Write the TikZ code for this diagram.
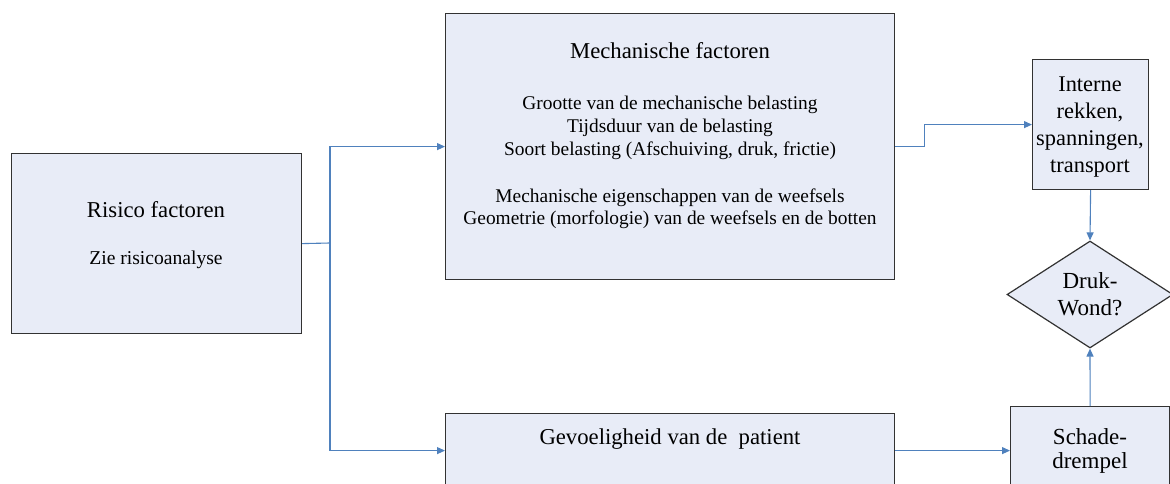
\documentclass[tikz,border=0pt]{standalone}
\usepackage{fontspec}
\setmainfont{Liberation Serif}
\usetikzlibrary{shapes.geometric,arrows.meta}
\definecolor{boxfill}{RGB}{232,236,247}
\definecolor{boxline}{RGB}{50,50,50}
\definecolor{arrowblue}{RGB}{79,129,189}
\begin{document}
\begin{tikzpicture}[x=1pt,y=-1pt,
  box/.style={draw=boxline, fill=boxfill, line width=1.2pt, inner sep=0pt, anchor=north west},
  lbl/.style={align=center, inner sep=0pt, anchor=base},
  conn/.style={draw=arrowblue, line width=1.1pt, -{Triangle[length=8pt,width=7pt]}}
]
\useasboundingbox (0,0) rectangle (1170,484);
% boxes
\node[box, minimum width=290pt, minimum height=180pt] (risk) at (11,153) {};
\node[box, minimum width=449pt, minimum height=266pt] (mech) at (445,13) {};
\node[box, minimum width=116pt, minimum height=130pt] (interne) at (1032,59) {};
\node[box, minimum width=449pt, minimum height=100pt] (gev) at (445,413) {};
\node[box, minimum width=159pt, minimum height=100pt] (schade) at (1010,406) {};
\node[draw=boxline, fill=boxfill, line width=1.2pt, diamond, inner sep=0pt,
      minimum width=166pt, minimum height=107pt] (wond) at (1090,294.5) {};
% texts (anchor = baseline of last line)
\node[lbl, font=\fontsize{22.7}{27}\selectfont] (t1) at (156,217) {Risico factoren};
\node[lbl, font=\fontsize{19.6}{23}\selectfont] (t2) at (156,264) {Zie risicoanalyse};
\node[lbl, font=\fontsize{22.7}{27}\selectfont] (t3) at (670,59) {Mechanische factoren};
\node[lbl, font=\fontsize{19.4}{23}\selectfont] (t4) at (670,156) {Grootte van de mechanische belasting\\Tijdsduur van de belasting\\Soort belasting (Afschuiving, druk, frictie)};
\node[lbl, font=\fontsize{19.4}{22}\selectfont] (t5) at (670,224) {Mechanische eigenschappen van de weefsels\\Geometrie (morfologie) van de weefsels en de botten};
\node[lbl, font=\fontsize{22.4}{26.7}\selectfont] (t6) at (1090,172) {Interne\\rekken,\\spanningen,\\transport};
\node[lbl, font=\fontsize{23}{27}\selectfont] (t7) at (1090,315) {Druk-\\Wond?};
\node[lbl, font=\fontsize{23}{24}\selectfont] (t8) at (1090,468) {Schade-\\drempel};
\node[lbl, font=\fontsize{22.7}{27}\selectfont] (t9) at (670,444) {Gevoeligheid van de\ \ patient};
% connectors
\coordinate (j) at (330,243);
\coordinate (gout) at ([yshift=13pt]gev.east);
\draw[arrowblue, line width=1.1pt] (risk.east) -- (j);
\draw[conn] (j) |- (mech.west);
\draw[conn] (j) |- ([yshift=13pt]gev.west);
\draw[conn] (mech.east) -- ++(29,0) |- (interne.west);
\draw[conn] (interne.south) -- (wond.north);
\draw[conn] (schade.north) -- (wond.south);
\draw[conn] (gout) -- (gout -| schade.west);
\end{tikzpicture}
\end{document}
